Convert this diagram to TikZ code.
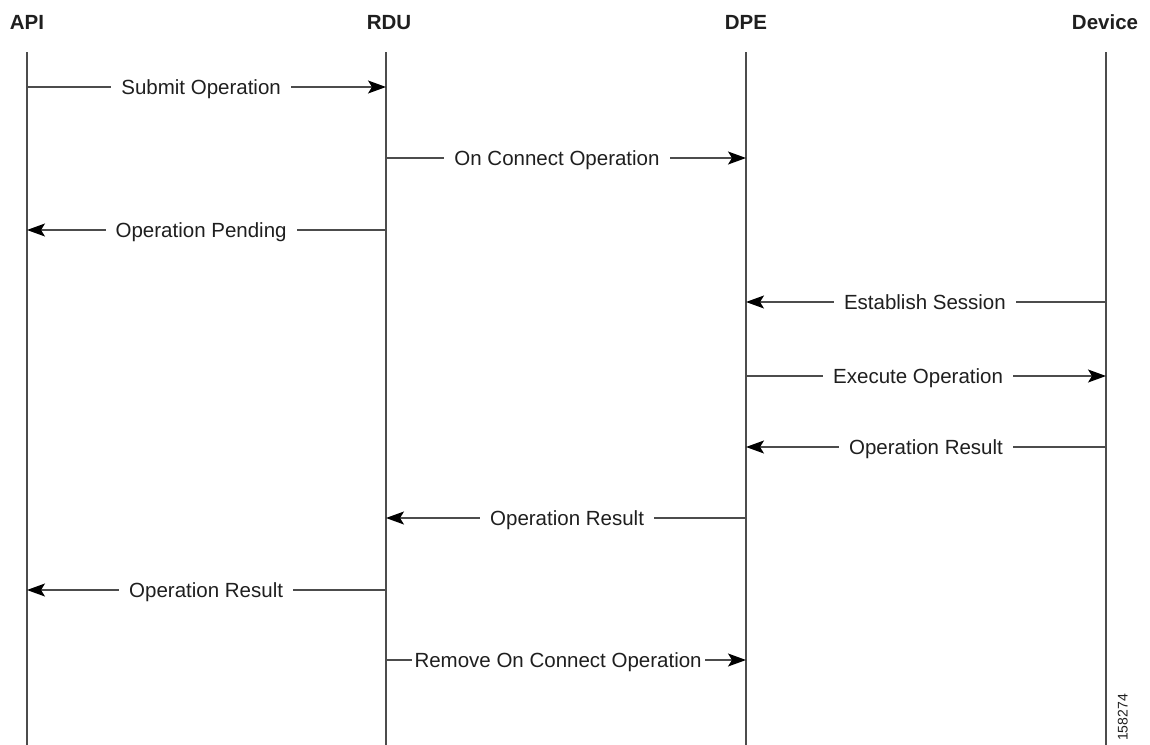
\documentclass[tikz,border=0pt]{standalone}
\usepackage{fontspec}
\setmainfont{Liberation Sans}
\usetikzlibrary{arrows.meta}
\definecolor{linecol}{gray}{0.3}
\definecolor{txtcol}{gray}{0.12}
\tikzset{
  lifeline/.style={draw=linecol, line width=1.2pt},
  msg/.style={draw=linecol, line width=1.2pt, -{Stealth[length=18pt,width=13pt,inset=4pt,color=black]}},
  msglabel/.style={fill=white, text=txtcol, inner xsep=10pt, inner ysep=0pt,
    text height=14.7pt, text depth=0pt, font=\fontsize{20.5pt}{24pt}\selectfont},
  header/.style={anchor=base, text=txtcol, inner sep=0pt, font=\fontsize{20.5pt}{24pt}\selectfont\bfseries}
}
\begin{document}
\begin{tikzpicture}[x=1pt,y=-1pt]
\useasboundingbox (0,0) rectangle (1150,744);
% headers
\node[header] (hapi) at (27,29) {API};
\node[header] (hrdu) at (389,29) {RDU};
\node[header] (hdpe) at (746,29) {DPE};
\node[header] (hdev) at (1105,29) {Device};
% lifelines
\foreach \n/\x in {api/27, rdu/386, dpe/746, dev/1106}{
  \coordinate (\n-top) at (\x,52);
  \coordinate (\n-bot) at (\x,745);
  \draw[lifeline] (\n-top) -- (\n-bot);
  \foreach \i/\y in {1/87, 2/158, 3/230, 4/302, 5/376, 6/447, 7/518, 8/590, 9/660}{
    \coordinate (\n-\i) at (\x,\y);
  }
}
% messages
\draw[msg] (api-1) -- node[msglabel, pos=0.485] (m1) {Submit Operation} (rdu-1);
\draw[msg] (rdu-2) -- node[msglabel, pos=0.475] (m2) {On Connect Operation} (dpe-2);
\draw[msg] (rdu-3) -- node[msglabel, pos=0.515] (m3) {Operation Pending} (api-3);
\draw[msg] (dev-4) -- node[msglabel, pos=0.503] (m4) {Establish Session} (dpe-4);
\draw[msg] (dpe-5) -- node[msglabel, pos=0.478] (m5) {Execute Operation} (dev-5);
\draw[msg] (dev-6) -- node[msglabel, pos=0.5] (m6) {Operation Result} (dpe-6);
\draw[msg] (dpe-7) -- node[msglabel, pos=0.497] (m7) {Operation Result} (rdu-7);
\draw[msg] (rdu-8) -- node[msglabel, pos=0.501] (m8) {Operation Result} (api-8);
\draw[msg] (rdu-9) -- node[msglabel, pos=0.478, inner xsep=3pt] (m9) {Remove On Connect Operation} (dpe-9);
% figure number
\node[rotate=90, anchor=south west, inner sep=0pt, text=txtcol,
  font=\fontsize{14pt}{16pt}\selectfont] (fig) at (1128,741) {158274};
\end{tikzpicture}
\end{document}
